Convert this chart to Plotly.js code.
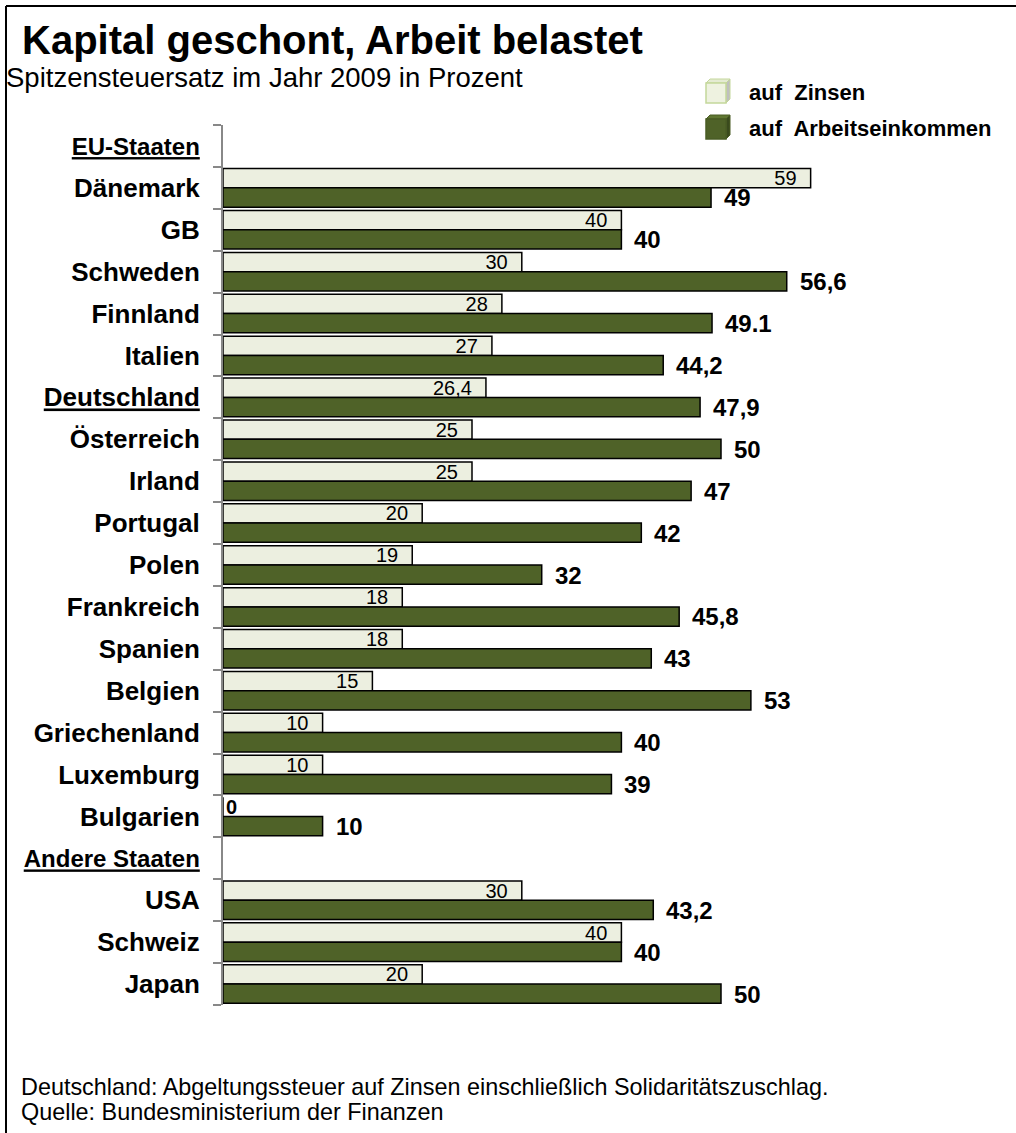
<!DOCTYPE html>
<html>
<head>
<meta charset="utf-8">
<script src="https://cdn.plot.ly/plotly-3.0.1.min.js"></script>
<style>html,body{margin:0;padding:0;background:#fff;}#chart{width:1016px;height:1133px;}</style>
</head>
<body>
<div id="chart"></div>
<script>
const categories = ['EU-Staaten','Dänemark','GB','Schweden','Finnland','Italien','Deutschland','Österreich','Irland','Portugal','Polen','Frankreich','Spanien','Belgien','Griechenland','Luxemburg','Bulgarien','Andere Staaten','USA','Schweiz','Japan'];
const headers = ['EU-Staaten','Andere Staaten'];
const underlined = ['EU-Staaten','Deutschland','Andere Staaten'];
const zinsen = [null,59,40,30,28,27,26.4,25,25,20,19,18,18,15,10,10,0,null,30,40,20];
const arbeit = [null,49,40,56.6,49.1,44.2,47.9,50,47,42,32,45.8,43,53,40,39,10,null,43.2,40,50];
const zinsenLabels = ['','59','40','30','28','27','26,4','25','25','20','19','18','18','15','10','10','0','','30','40','20'];
const arbeitLabels = ['','49','40','56,6','49.1','44,2','47,9','50','47','42','32','45,8','43','53','40','39','10','','43,2','40','50'];
const seriesNames = ['auf\u00a0 Zinsen','auf\u00a0 Arbeitseinkommen'];
const titleText = 'Kapital geschont, Arbeit belastet';
const subtitleText = 'Spitzensteuersatz im Jahr 2009 in Prozent';
const footerLines = ['Deutschland: Abgeltungssteuer auf Zinsen einschließlich Solidaritätszuschlag.','Quelle: Bundesministerium der Finanzen'];

const W = 1016, H = 1133;
const px = x => x / W;
const py = y => 1 - y / H;
const FONT = 'Liberation Sans, Arial, Helvetica, sans-serif';
const NARROW = 'Liberation Sans Narrow, Arial Narrow, Liberation Sans, Arial, sans-serif';
const LIGHT = '#ECEFE0';
const GREEN = '#4F6228';

const tickLabels = categories.map(c => {
  let t = underlined.includes(c) ? '<u>' + c + '</u>' : c;
  if (headers.includes(c)) t = '<span style="font-size:24px">' + t + '</span>';
  return t;
});

const traceZ = {
  type: 'bar', orientation: 'h', name: seriesNames[0],
  y: categories, x: zinsen, text: zinsenLabels,
  texttemplate: zinsen.map(v => v > 0 ? '%{text}\u00a0\u00a0' : '%{text}'),
  textposition: zinsen.map(v => v > 0 ? 'inside' : 'outside'),
  insidetextanchor: 'end',
  constraintext: 'none',
  insidetextfont: {family: NARROW, size: 20, color: '#000'},
  outsidetextfont: {family: FONT, size: 20, color: '#000', weight: 'bold'},
  marker: {color: LIGHT, line: {color: '#000', width: 1.5}},
  cliponaxis: false, hoverinfo: 'skip'
};
const traceA = {
  type: 'bar', orientation: 'h', name: seriesNames[1],
  y: categories, x: arbeit,
  textposition: 'none',
  marker: {color: GREEN, line: {color: '#000', width: 1.5}},
  cliponaxis: false, hoverinfo: 'skip'
};

function cube(x, y, s, front, top, side, border) {
  const d = 4;
  return [
    {type:'path', xref:'paper', yref:'paper', fillcolor: side, line:{color: border, width:1},
     path:`M${px(x+s)},${py(y)} L${px(x+s+d)},${py(y-d)} L${px(x+s+d)},${py(y+s-d)} L${px(x+s)},${py(y+s)} Z`},
    {type:'path', xref:'paper', yref:'paper', fillcolor: top, line:{color: border, width:1},
     path:`M${px(x)},${py(y)} L${px(x+d)},${py(y-d)} L${px(x+s+d)},${py(y-d)} L${px(x+s)},${py(y)} Z`},
    {type:'rect', xref:'paper', yref:'paper', fillcolor: front, line:{color: border, width:1.5},
     x0:px(x), x1:px(x+s), y0:py(y+s), y1:py(y)}
  ];
}

const shapes = [
  {type:'line', xref:'paper', yref:'paper', x0:px(6), x1:px(1016), y0:py(6), y1:py(6), line:{color:'#000', width:2}},
  {type:'line', xref:'paper', yref:'paper', x0:px(6), x1:px(6), y0:py(6), y1:py(1133), line:{color:'#000', width:2}},
  ...cube(706, 83, 20, '#EEF2E0', '#E4EBD2', '#BFBFBF', '#C4D79B'),
  ...cube(706, 119, 20, GREEN, '#5F7631', '#3A4A1D', '#4A5C25')
];

// value labels for the Arbeitseinkommen bars, placed through the x/y axes
const valueAnnotations = categories.map((c, i) => arbeit[i] == null ? null : ({
  xref:'x', yref:'y', x: arbeit[i], y: c, yshift: -10, xshift: 11, xanchor:'left', yanchor:'middle',
  showarrow:false, text: arbeitLabels[i], font:{family: FONT, size: 24, color:'#000', weight:'bold'}
})).filter(a => a);

const annotations = [
  {xref:'paper', yref:'paper', x:px(4), y:py(78), xanchor:'left', yanchor:'middle', showarrow:false,
   text: subtitleText, font:{family: FONT, size: 27.5, color:'#000'}},
  {xref:'paper', yref:'paper', x:px(747), y:py(92), xanchor:'left', yanchor:'middle', showarrow:false,
   text: seriesNames[0], font:{family: FONT, size: 22, color:'#000', weight:'bold'}},
  {xref:'paper', yref:'paper', x:px(747), y:py(129), xanchor:'left', yanchor:'middle', showarrow:false,
   text: seriesNames[1], font:{family: FONT, size: 22, color:'#000', weight:'bold'}},
  {xref:'paper', yref:'paper', x:px(19), y:py(1087), xanchor:'left', yanchor:'middle', showarrow:false,
   text: footerLines[0], font:{family: FONT, size: 23.4, color:'#000'}},
  {xref:'paper', yref:'paper', x:px(19), y:py(1112), xanchor:'left', yanchor:'middle', showarrow:false,
   text: footerLines[1], font:{family: FONT, size: 23.4, color:'#000'}},
  ...valueAnnotations
];

const layout = {
  width: W, height: H,
  margin: {l:0, r:0, t:0, b:0, pad:0},
  paper_bgcolor: '#fff', plot_bgcolor: '#fff',
  showlegend: false,
  barmode: 'group', bargap: 0.08, bargroupgap: 0,
  title: {text: titleText, x: px(22), xanchor: 'left', xref: 'container', y: py(40), yanchor: 'middle', yref: 'container',
          font: {family: FONT, size: 40, color: '#000', weight: 'bold'}},
  xaxis: {domain: [px(223), 1], range: [0, (W - 223) / 9.96], visible: false, fixedrange: true},
  yaxis: {type: 'category', domain: [py(1005), py(125)], range: [categories.length - 0.5, -0.5],
          tickmode: 'array', tickvals: categories, ticktext: tickLabels, tickson: 'boundaries',
          ticks: 'outside', ticklen: 8, tickwidth: 2, tickcolor: '#888',
          showline: true, linecolor: '#888', linewidth: 2, showgrid: false, zeroline: false,
          tickfont: {family: FONT, size: 26, color: '#000', weight: 'bold'}, ticklabelstandoff: 16,
          fixedrange: true},
  shapes: shapes,
  annotations: annotations
};

Plotly.newPlot('chart', [traceZ, traceA], layout, {displayModeBar: false, staticPlot: true});
</script>
</body>
</html>
